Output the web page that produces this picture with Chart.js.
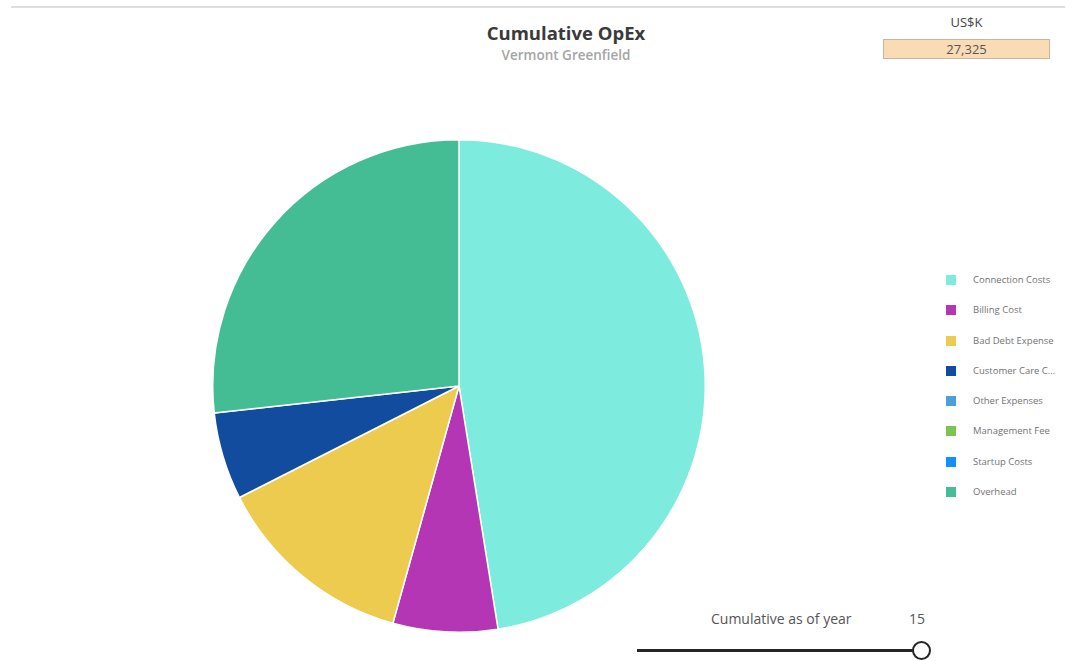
<!DOCTYPE html>
<html>
<head>
<meta charset="utf-8">
<script src="https://cdn.jsdelivr.net/npm/chart.js@4"></script>
<style>
  body { margin: 0; width: 1075px; height: 661px; background: #fff; font-family: "Open Sans", sans-serif; position: relative; overflow: hidden; }
  .topline { position: absolute; left: 11px; top: 6px; width: 1054px; height: 2px; background: #dedede; }
  .title { position: absolute; left: 416px; width: 300px; top: 20px; text-align: center; font-size: 18.5px; font-weight: 700; color: #3a3a3a; }
  .subtitle { position: absolute; left: 416px; width: 300px; top: 46px; text-align: center; font-size: 13.5px; font-weight: 600; color: #a5a5a5; }
  .unit { position: absolute; left: 883px; width: 167px; top: 13px; text-align: center; font-size: 13px; color: #444; }
  .total { position: absolute; left: 883px; top: 39px; width: 165px; height: 18px; background: #f9dcb6; border: 1px solid #c9b79c; text-align: center; font-size: 13px; line-height: 18px; color: #555; }
  #wrap { position: absolute; left: 209px; top: 136px; width: 500px; height: 500px; }
  #legend { position: absolute; left: 946px; top: 273px; }
  .item { height: 30.3px; display: flex; align-items: flex-start; }
  .sw { width: 10px; height: 10px; margin-top: 2px; }
  .lb { margin-left: 17px; font-size: 9.5px; color: #737373; width: 86px; white-space: nowrap; overflow: hidden; text-overflow: ellipsis; }
  .slabel { position: absolute; left: 711px; top: 609px; font-size: 14px; color: #555; }
  .syear { position: absolute; left: 909px; top: 609px; font-size: 14px; color: #555; }
  .strack { position: absolute; left: 637px; top: 649px; width: 278px; height: 3px; background: #252525; }
  .sknob { position: absolute; left: 912px; top: 641px; width: 15px; height: 15px; border: 2px solid #252525; border-radius: 50%; background: #fff; }
</style>
</head>
<body>
<div class="topline"></div>
<div class="title">Cumulative OpEx</div>
<div class="subtitle">Vermont Greenfield</div>
<div class="unit">US$K</div>
<div class="total" id="total"></div>
<div id="wrap"><canvas id="pie"></canvas></div>
<div id="legend"></div>
<div class="slabel">Cumulative as of year</div>
<div class="syear" id="year"></div>
<div class="strack"></div>
<div class="sknob"></div>

<script>
// categorias y valores (US$K acumulado)
const categorias = ['Connection Costs', 'Billing Cost', 'Bad Debt Expense', 'Customer Care Costs',
  'Other Expenses', 'Management Fee', 'Startup Costs', 'Overhead']
const valores = [12970, 1875, 3605, 1565, 0, 0, 0, 7310]
const colores = ['#7debdd', '#b436b4', '#eccb4e', '#124c9f', '#4c9fdc', '#7cc451', '#1190fe', '#45bd94']
const anio = 15

// total arriba a la derecha
const total = valores.reduce((a, b) => a + b, 0)
document.getElementById('total').textContent = total.toLocaleString('en-US')
document.getElementById('year').textContent = anio

// leyenda
const leyenda = document.getElementById('legend')
categorias.forEach((c, i) => {
  const fila = document.createElement('div')
  fila.className = 'item'
  fila.innerHTML = '<div class="sw" style="background:' + colores[i] + '"></div><div class="lb">' + c + '</div>'
  leyenda.appendChild(fila)
})

// grafico de torta
new Chart(document.getElementById('pie'), {
  type: 'pie',
  data: {
    labels: categorias,
    datasets: [{
      data: valores,
      backgroundColor: colores,
      borderColor: '#ffffff',
      borderWidth: 1.5
    }]
  },
  options: {
    responsive: true,
    maintainAspectRatio: false,
    animation: false,
    layout: { padding: 3 },
    plugins: {
      legend: { display: false },
      tooltip: { enabled: false }
    }
  }
})
</script>
</body>
</html>
